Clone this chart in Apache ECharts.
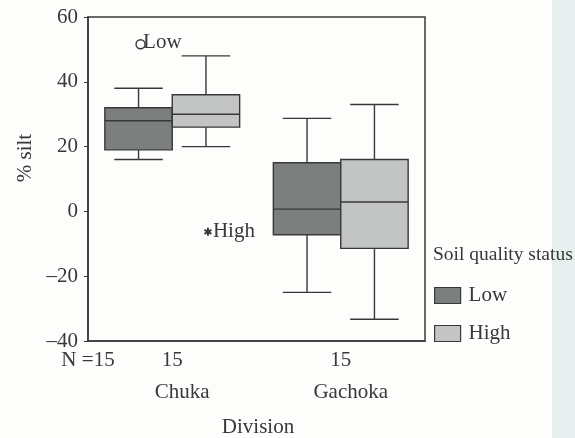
<!DOCTYPE html>
<html>
<head>
<meta charset="utf-8">
<script src="https://cdn.jsdelivr.net/npm/echarts@6/dist/echarts.min.js"></script>
<style>
html,body{margin:0;padding:0;background:#fdfdfb;}
#chart{width:575px;height:438px;}
</style>
</head>
<body>
<div id="chart"></div>
<script>
// ---- data ----
const categories = ['Chuka', 'Gachoka'];
const groupNames = ['Low', 'High'];
// [min, Q1, median, Q3, max]
const lowStats  = [[16, 19, 28, 32, 38], [-25, -7.2, 0.7, 15, 28.7]];
const highStats = [[20, 26, 30, 36, 48], [-33.3, -11.4, 2.9, 16, 33]];
// outliers: [categoryIndex, value]
const lowOutliers  = [[0, 52.2]];
const highOutliers = [[0, -6.3]];
const nLabels = ['N =15', '15', '15'];

const FONT = '"Liberation Serif", "DejaVu Serif", serif';
const FS = 21;
const TXT = '#383838';
const LINE = '#383838';
const lowColor = '#7b807e';
const highColor = '#c2c5c3';

function boxRows(stats) {
  return stats.map((s, i) => [i].concat(s));
}

function makeBoxRender(offsetFrac, fill) {
  return function (params, api) {
    const cat = api.value(0);
    const band = api.size([1, 0])[0];
    const cx = api.coord([cat, 0])[0] + offsetFrac * band;
    const w = band * 0.4;
    const cap = w * 0.72;
    const y = [1, 2, 3, 4, 5].map(i => api.coord([cat, api.value(i)])[1]);
    const ls = { stroke: LINE, lineWidth: 1.4 };
    return {
      type: 'group',
      children: [
        { type: 'line', shape: { x1: cx, y1: y[4], x2: cx, y2: y[3] }, style: ls },
        { type: 'line', shape: { x1: cx, y1: y[1], x2: cx, y2: y[0] }, style: ls },
        { type: 'line', shape: { x1: cx - cap / 2, y1: y[4], x2: cx + cap / 2, y2: y[4] }, style: ls },
        { type: 'line', shape: { x1: cx - cap / 2, y1: y[0], x2: cx + cap / 2, y2: y[0] }, style: ls },
        { type: 'rect', shape: { x: cx - w / 2, y: y[3], width: w, height: y[1] - y[3] },
          style: { fill: fill, stroke: LINE, lineWidth: 1.4 } },
        { type: 'line', shape: { x1: cx - w / 2, y1: y[2], x2: cx + w / 2, y2: y[2] }, style: ls }
      ]
    };
  };
}

function makeOutlierRender(offsetFrac, kind, label) {
  return function (params, api) {
    const cat = api.value(0);
    const band = api.size([1, 0])[0];
    const p = api.coord([cat, api.value(1)]);
    const cx = p[0] + offsetFrac * band + 2;
    const cy = p[1];
    const children = [];
    let tx;
    if (kind === 'circle') {
      children.push({ type: 'circle', shape: { cx: cx, cy: cy + 2, r: 4.5 },
        style: { fill: 'none', stroke: LINE, lineWidth: 1.4 } });
      tx = cx + 2.5;
    } else {
      const r = 4;
      for (let k = 0; k < 3; k++) {
        const a = Math.PI / 2 + k * Math.PI / 3;
        children.push({ type: 'line', shape: { x1: cx - r * Math.cos(a), y1: cy - r * Math.sin(a),
          x2: cx + r * Math.cos(a), y2: cy + r * Math.sin(a) }, style: { stroke: LINE, lineWidth: 1.9 } });
      }
      tx = cx + 5;
    }
    children.push({ type: 'text', x: tx, y: cy, style: { text: label, fill: TXT,
      font: FS + 'px ' + FONT, textAlign: 'left', textVerticalAlign: 'middle' } });
    return { type: 'group', children: children };
  };
}

const chart = echarts.init(document.getElementById('chart'));
chart.setOption({
  backgroundColor: '#fdfdfb',
  animation: false,
  grid: { left: 88, right: 150, top: 17, bottom: 97, show: true, borderColor: LINE, borderWidth: 1.5 },
  xAxis: {
    type: 'category',
    data: categories,
    boundaryGap: true,
    axisLine: { onZero: false, lineStyle: { color: LINE, width: 1.5 } },
    axisTick: { alignWithLabel: true, length: 3, lineStyle: { color: LINE } },
    axisLabel: {
      margin: 5,
      formatter: function (v, i) { return '{n|' + nLabels[i + 1] + '}\n{c|' + v + '}'; },
      rich: {
        n: { fontFamily: FONT, fontSize: FS, color: TXT, lineHeight: 28 },
        c: { fontFamily: FONT, fontSize: FS, color: TXT, lineHeight: 36, padding: [0, 0, 0, 20] }
      }
    },
    splitLine: { show: false }
  },
  yAxis: {
    type: 'value',
    min: -40, max: 60, interval: 20,
    axisLine: { show: true, lineStyle: { color: LINE, width: 1.5 } },
    axisTick: { show: true, length: 4, lineStyle: { color: LINE } },
    axisLabel: {
      margin: 10,
      fontFamily: FONT, fontSize: FS, color: TXT,
      formatter: function (v) { return String(v).replace('-', '\u2013'); }
    },
    splitLine: { show: false }
  },
  title: {
    text: 'Soil quality status',
    left: 428, top: 240,
    textStyle: { fontFamily: FONT, fontSize: 19.5, fontWeight: 'normal', color: TXT }
  },
  legend: {
    orient: 'vertical',
    left: 429, top: 280,
    itemWidth: 26, itemHeight: 16, itemGap: 17,
    icon: 'rect',
    textStyle: { fontFamily: FONT, fontSize: FS, color: TXT, padding: [0, 0, 0, 3] },
    data: [
      { name: 'Low', itemStyle: { color: lowColor, borderColor: LINE, borderWidth: 1.2 } },
      { name: 'High', itemStyle: { color: highColor, borderColor: LINE, borderWidth: 1.2 } }
    ]
  },
  graphic: [
    { type: 'rect', left: 552, top: 0, z: -10, silent: true,
      shape: { width: 23, height: 438 }, style: { fill: '#e8efef' } },
    { type: 'text', x: 88, y: 360,
      style: { text: nLabels[0], font: FS + 'px ' + FONT, fill: TXT, textAlign: 'center', textVerticalAlign: 'middle' } },
    { type: 'text', x: 258, y: 427,
      style: { text: 'Division', font: FS + 'px ' + FONT, fill: TXT, textAlign: 'center', textVerticalAlign: 'middle' } },
    { type: 'text', x: 25, y: 158, rotation: Math.PI / 2,
      style: { text: '% silt', font: FS + 'px ' + FONT, fill: TXT, textAlign: 'center', textVerticalAlign: 'middle' } }
  ],
  series: [
    { name: 'Low', type: 'custom', renderItem: makeBoxRender(-0.2, lowColor),
      itemStyle: { color: lowColor }, encode: { x: 0, y: [1, 2, 3, 4, 5] }, data: boxRows(lowStats) },
    { name: 'High', type: 'custom', renderItem: makeBoxRender(0.2, highColor),
      itemStyle: { color: highColor }, encode: { x: 0, y: [1, 2, 3, 4, 5] }, data: boxRows(highStats) },
    { name: 'Low outliers', type: 'custom', renderItem: makeOutlierRender(-0.2, 'circle', 'Low'),
      encode: { x: 0, y: 1 }, data: lowOutliers },
    { name: 'High outliers', type: 'custom', renderItem: makeOutlierRender(0.2, 'star', 'High'),
      encode: { x: 0, y: 1 }, data: highOutliers }
  ]
});
</script>
</body>
</html>
